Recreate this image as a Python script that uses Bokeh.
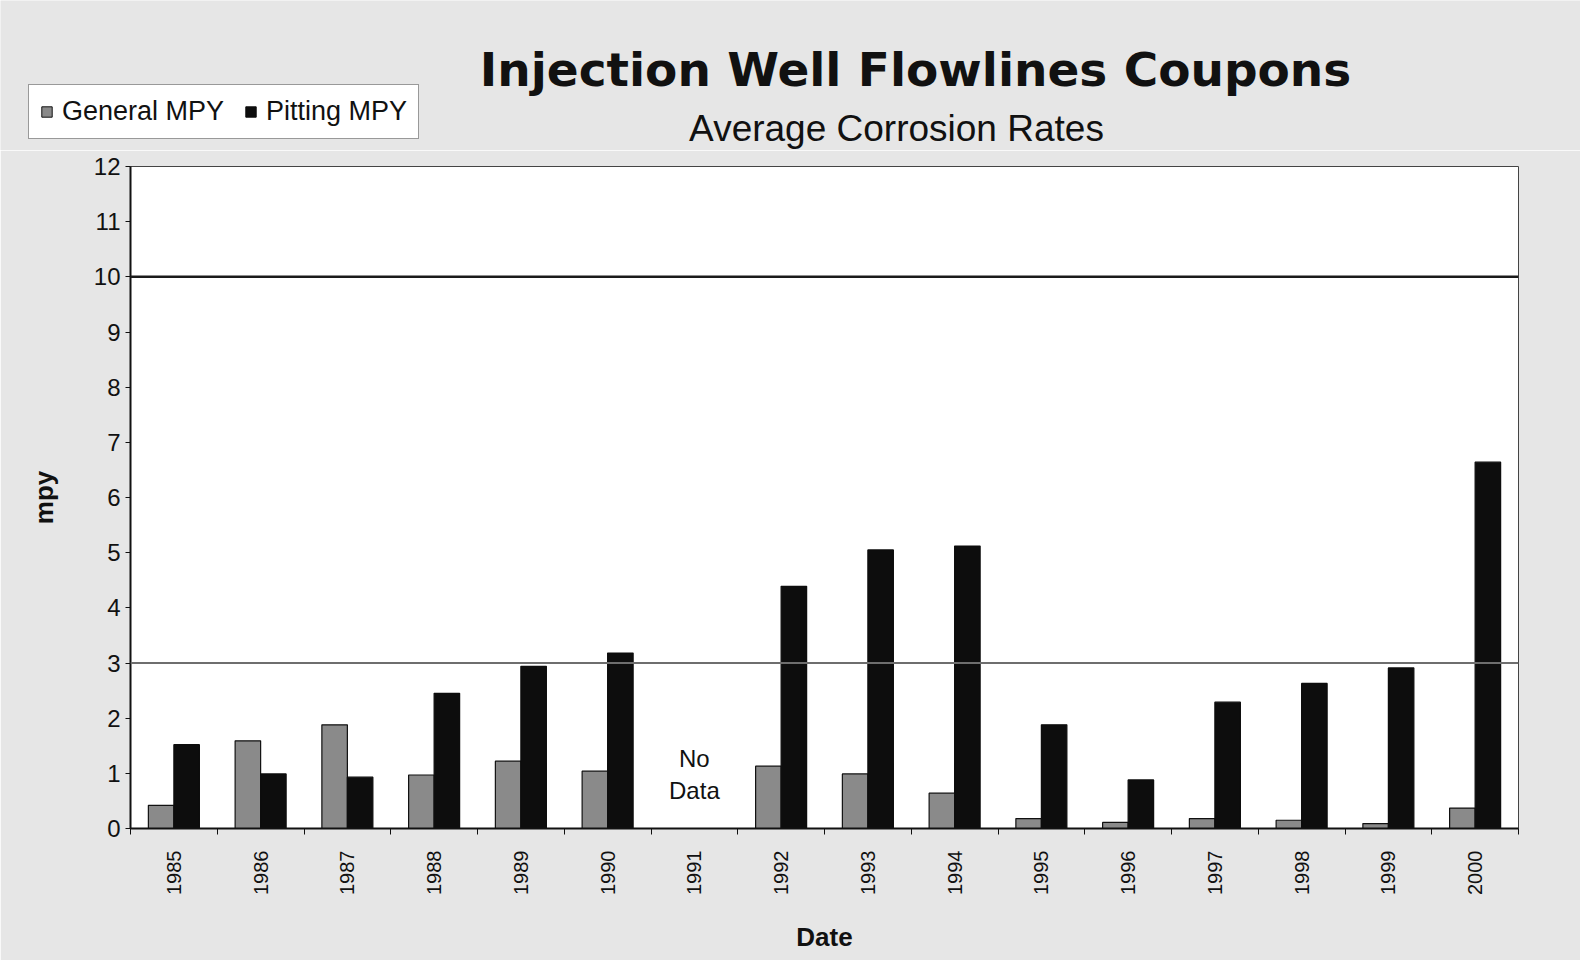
import numpy as np
from bokeh.plotting import figure
from bokeh.layouts import column
from bokeh.models import (ColumnDataSource, Range1d, FixedTicker, Span, Label,
                          Legend, LegendItem)
from bokeh.transform import dodge
from bokeh.embed import file_html
from bokeh.resources import INLINE

# ---- data ----
years = [1985, 1986, 1987, 1988, 1989, 1990, 1991, 1992,
         1993, 1994, 1995, 1996, 1997, 1998, 1999, 2000]
general_mpy = [0.42, 1.59, 1.88, 0.97, 1.22, 1.04, None, 1.13,
               0.99, 0.64, 0.18, 0.11, 0.18, 0.15, 0.09, 0.37]
pitting_mpy = [1.52, 0.99, 0.93, 2.45, 2.94, 3.18, None, 4.39,
               5.05, 5.12, 1.88, 0.88, 2.29, 2.63, 2.91, 6.64]
series_names = ["General MPY", "Pitting MPY"]
series_colors = ["#8a8a8a", "#0d0d0d"]
y_ticks = list(range(0, 13))
reference_lines = [3, 10]
no_data_year = 1991
title_text = "Injection Well Flowlines Coupons"
subtitle_text = "Average Corrosion Rates"

FONT = "Liberation Sans"
TITLE_FONT = "DejaVu Sans"
INK = "#111111"
BG = "#e6e6e6"
W = 1580
HEADER_H = 150

src = ColumnDataSource(dict(
    year=years,
    general=[np.nan if v is None else v for v in general_mpy],
    pitting=[np.nan if v is None else v for v in pitting_mpy],
))

# ---------------- header: titles + legend ----------------
head = figure(width=W, height=HEADER_H, output_backend="svg", toolbar_location=None,
              x_range=Range1d(0, 1), y_range=Range1d(0, 1),
              min_border=0, x_axis_type=None, y_axis_type=None)
head.frame_align = False
head.background_fill_color = BG
head.border_fill_color = BG
head.outline_line_color = None
head.xgrid.grid_line_color = None
head.ygrid.grid_line_color = None

# legend swatches: the same series, outside the header's (empty) view
sw_gen = head.vbar(x="year", top="general", width=0.3, source=src,
                   fill_color=series_colors[0], line_color=INK)
sw_pit = head.vbar(x="year", top="pitting", width=0.3, source=src,
                   fill_color=series_colors[1], line_color=series_colors[1])

head.add_layout(Label(x=915, y=HEADER_H - 69, x_units="screen", y_units="screen",
                      text=title_text, text_align="center", text_baseline="alphabetic",
                      text_font=TITLE_FONT, text_font_style="bold", text_font_size="47px",
                      text_color=INK))
head.add_layout(Label(x=896, y=HEADER_H - 128, x_units="screen", y_units="screen",
                      text=subtitle_text, text_align="center", text_baseline="alphabetic",
                      text_font=FONT, text_font_size="37px", text_color=INK))

legend = Legend(items=[LegendItem(label=series_names[0], renderers=[sw_gen]),
                       LegendItem(label=series_names[1], renderers=[sw_pit])],
                orientation="horizontal", location=(28, HEADER_H - 139),
                label_text_font=FONT, label_text_font_size="27px",
                label_text_color=INK,
                glyph_width=13, glyph_height=13, spacing=20, padding=11,
                label_standoff=9, margin=0,
                border_line_color="#333333", border_line_width=1.5,
                background_fill_color="white", background_fill_alpha=1)
head.add_layout(legend)

# ---------------- main chart ----------------
p = figure(width=W, height=960 - HEADER_H, output_backend="svg", toolbar_location=None,
           x_range=Range1d(years[0] - 0.5, years[-1] + 0.5),
           y_range=Range1d(y_ticks[0], y_ticks[-1]),
           min_border_left=130, min_border_right=62,
           min_border_top=166 - HEADER_H, min_border_bottom=132)
p.frame_align = False

p.background_fill_color = "white"
p.border_fill_color = BG
p.outline_line_color = "#444444"
p.outline_line_width = 1
p.xgrid.grid_line_color = None
p.ygrid.grid_line_color = None

bw = 0.294
p.vbar(x=dodge("year", -bw / 2), top="general", width=bw, source=src,
       fill_color=series_colors[0], line_color=INK, line_width=1.2)
p.vbar(x=dodge("year", bw / 2), top="pitting", width=bw, source=src,
       fill_color=series_colors[1], line_color=series_colors[1], line_width=1.2)

# reference lines
p.add_layout(Span(location=reference_lines[1], dimension="width",
                  line_color="#1a1a1a", line_width=2.5))
p.add_layout(Span(location=reference_lines[0], dimension="width",
                  line_color="#6e6e6e", line_width=2))

# y axis
p.yaxis.ticker = FixedTicker(ticks=y_ticks, minor_ticks=[])
p.yaxis.axis_label = "mpy"
p.yaxis.axis_label_text_font = FONT
p.yaxis.axis_label_text_font_style = "bold"
p.yaxis.axis_label_text_font_size = "26px"
p.yaxis.axis_label_text_color = INK
p.yaxis.axis_label_standoff = 32
p.yaxis.major_label_text_font = FONT
p.yaxis.major_label_text_font_size = "24px"
p.yaxis.major_label_text_color = INK
p.yaxis.major_label_standoff = 5
p.yaxis.axis_line_color = INK
p.yaxis.axis_line_width = 2
p.yaxis.major_tick_in = 0
p.yaxis.major_tick_out = 5
p.yaxis.major_tick_line_color = INK

# x axis
p.xaxis.ticker = FixedTicker(ticks=years,
                             minor_ticks=[y - 0.5 for y in years] + [years[-1] + 0.5])
p.xaxis.axis_label = "Date"
p.xaxis.axis_label_text_font = FONT
p.xaxis.axis_label_text_font_style = "bold"
p.xaxis.axis_label_text_font_size = "26px"
p.xaxis.axis_label_text_color = INK
p.xaxis.axis_label_standoff = 24
p.xaxis.major_label_orientation = np.pi / 2
p.xaxis.major_label_text_font = FONT
p.xaxis.major_label_text_font_size = "20px"
p.xaxis.major_label_text_color = INK
p.xaxis.major_label_standoff = 16
p.xaxis.axis_line_color = INK
p.xaxis.axis_line_width = 2
p.xaxis.major_tick_in = 0
p.xaxis.major_tick_out = 0
p.xaxis.minor_tick_in = 0
p.xaxis.minor_tick_out = 6
p.xaxis.minor_tick_line_color = INK

# No Data note
p.add_layout(Label(x=no_data_year, y=0.98, text="No\nData", text_align="center",
                   text_baseline="middle", text_font=FONT, text_font_size="24px",
                   text_color=INK))

layout = column(head, p, spacing=0)
open("out.html", "w").write(file_html(layout, INLINE))
